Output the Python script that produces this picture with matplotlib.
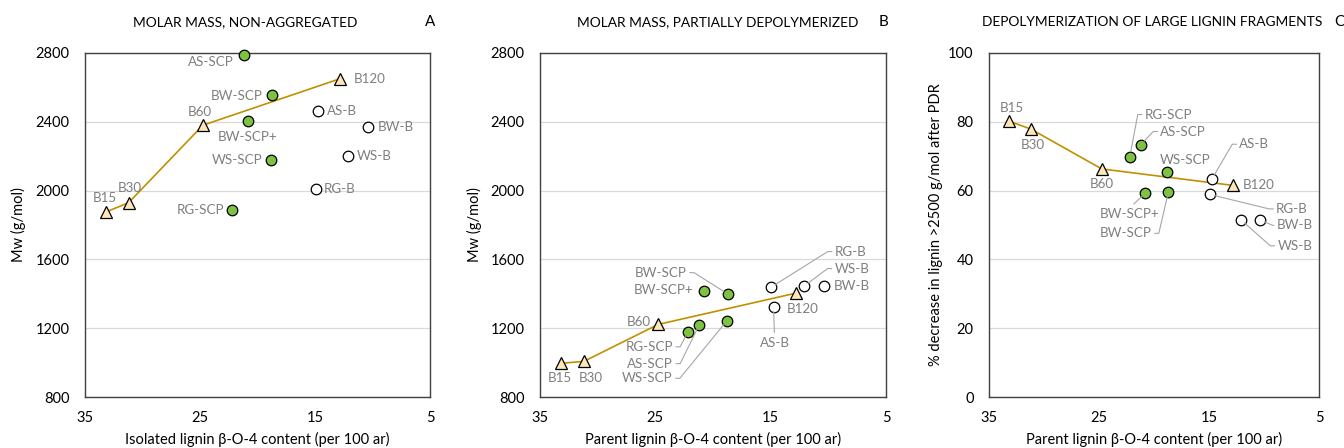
import math
import matplotlib
matplotlib.use("Agg")
import matplotlib.pyplot as plt

plt.rcParams['font.family'] = ['Lato', 'DejaVu Sans']

# ---------------- data ----------------
b_labels = ["B15", "B30", "B60", "B120"]
b_x = [33.2, 31.2, 24.75, 12.8]

scp_labels = ["RG-SCP", "AS-SCP", "BW-SCP+", "WS-SCP", "BW-SCP"]
scp_x = [22.2, 21.2, 20.8, 18.8, 18.7]

tb_labels = ["AS-B", "RG-B", "WS-B", "BW-B"]
tb_x = [14.75, 14.95, 12.1, 10.35]

# Panel A: Mw non-aggregated
a_b_y = [1875, 1930, 2380, 2651]
a_scp_y = [1887, 2790, 2403, 2178, 2556]
a_tb_y = [2463, 2009, 2201, 2368]

# Panel B: Mw partially depolymerized
b_b_y = [996, 1007, 1222, 1404]
b_scp_y = [1176, 1218, 1418, 1243, 1398]
b_tb_y = [1325, 1439, 1445, 1445]

# Panel C: % decrease of large fragments
c_b_y = [80.2, 77.9, 66.3, 61.5]
c_scp_y = [69.9, 73.4, 59.2, 65.4, 59.5]
c_tb_y = [63.3, 58.9, 51.5, 51.5]

titles = ["MOLAR MASS, NON-AGGREGATED", "MOLAR MASS, PARTIALLY DEPOLYMERIZED",
          "DEPOLYMERIZATION OF LARGE LIGNIN FRAGMENTS"]
letters = ["A", "B", "C"]
xlabels = ["Isolated lignin \u03b2-O-4 content (per 100 ar)",
           "Parent lignin \u03b2-O-4 content (per 100 ar)",
           "Parent lignin \u03b2-O-4 content (per 100 ar)"]
ylabels = ["Mw (g/mol)", "Mw (g/mol)", "% decrease in lignin >2500 g/mol after PDR"]
yticks_ab = [800, 1200, 1600, 2000, 2400, 2800]
yticks_c = [0, 20, 40, 60, 80, 100]
xticks = [35, 25, 15, 5]

# ---------------- style ----------------
W, H = 1344, 448
fig = plt.figure(figsize=(W / 100, H / 100), dpi=100)

GREEN = "#7DC242"
TRI = "#FDE7B8"
LINE = "#C09000"
LABC = "#7F7F7F"
LEAD = "#A6A6A6"
FS_TICK = 10.5
FS_TITLE = 9.9
FS_LAB = 9.6
PX = 0.72  # px -> pt

axes_px = [(85, 430), (540, 886), (989, 1319)]
top_px, bot_px = 53, 397
title_cx = [245, 718, 1152]
letter_x = [430, 884, 1339]
ylab_x = [26, 482, 943]


def lab(ax, x, y, text, dx, dy, ha="center", leader=None, tail=7):
    """dx, dy in px (dy positive = up). leader: None, 'h' (horizontal tail), 'top', 'straight'."""
    kw = dict(xy=(x, y), xytext=(dx * PX, dy * PX), textcoords="offset points",
              ha=ha, va="center", fontsize=FS_LAB, color=LABC, zorder=6,
              annotation_clip=False)
    if leader is not None:
        if leader == "h":
            relx = 1.0 if ha == "right" else (0.0 if ha == "left" else 0.5)
            s = -1 if dx > 0 else 1
            ang = math.degrees(math.atan2(dy, dx + s * tail))
            ap = dict(arrowstyle="-", color=LEAD, lw=0.8, shrinkA=0, shrinkB=3.5,
                      relpos=(relx, 0.5),
                      connectionstyle="angle,angleA=0,angleB=%.2f,rad=0" % ang)
        elif leader == "top":
            ap = dict(arrowstyle="-", color=LEAD, lw=0.8, shrinkA=1, shrinkB=3.5,
                      relpos=(0.5, 1.0))
        else:
            ap = dict(arrowstyle="-", color=LEAD, lw=0.8, shrinkA=1, shrinkB=3.5)
        kw["arrowprops"] = ap
    ax.annotate(text, **kw)


def base(i, yticks, ylim):
    l, r = axes_px[i]
    ax = fig.add_axes([l / W, 1 - bot_px / H, (r - l) / W, (bot_px - top_px) / H])
    ax.set_xlim(35, 5)
    ax.set_ylim(*ylim)
    ax.set_xticks(xticks)
    ax.set_yticks(yticks)
    ax.tick_params(length=0, labelsize=FS_TICK, colors="#000000")
    ax.tick_params(axis="y", pad=11)
    ax.tick_params(axis="x", pad=10)
    ax.grid(axis="y", color="#D9D9D9", lw=0.9)
    ax.set_axisbelow(True)
    for sp in ax.spines.values():
        sp.set_color("#404040")
        sp.set_linewidth(1.0)
    ax.set_xlabel(xlabels[i], fontsize=FS_TICK, labelpad=5)
    ax.set_ylabel(ylabels[i], fontsize=FS_TICK)
    ax.yaxis.set_label_coords((ylab_x[i] - l) / (r - l), 0.5)
    fig.text(title_cx[i] / W, 1 - 22 / H, titles[i], ha="center", va="center",
             fontsize=FS_TITLE)
    fig.text(letter_x[i] / W, 1 - 22 / H, letters[i], ha="center", va="center",
             fontsize=FS_TICK + 0.5)
    return ax


def marks(ax, by, sy, ty):
    ax.plot(b_x, by, color=LINE, lw=1.2, zorder=3, clip_on=False)
    ax.plot(b_x, by, ls="none", marker="^", ms=8, mfc=TRI, mec="#000000", mew=0.9,
            zorder=5, clip_on=False)
    ax.plot(scp_x, sy, ls="none", marker="o", ms=7.6, mfc=GREEN, mec="#000000", mew=0.9,
            zorder=5, clip_on=False)
    ax.plot(tb_x, ty, ls="none", marker="o", ms=7.6, mfc="white", mec="#000000", mew=0.9,
            zorder=5, clip_on=False)


# ---------- Panel A ----------
ax = base(0, yticks_ab, (800, 2800))
marks(ax, a_b_y, a_scp_y, a_tb_y)
# B series labels
lab(ax, b_x[0], a_b_y[0], b_labels[0], -1, 14)
lab(ax, b_x[1], a_b_y[1], b_labels[1], 1, 15)
lab(ax, b_x[2], a_b_y[2], b_labels[2], -3, 13)
lab(ax, b_x[3], a_b_y[3], b_labels[3], 13.5, 0, ha="left")
# SCP labels: RG, AS, BW+, WS, BW
lab(ax, scp_x[0], a_scp_y[0], scp_labels[0], -7.5, 0, ha="right")
lab(ax, scp_x[1], a_scp_y[1], scp_labels[1], -10, -7.5, ha="right")
lab(ax, scp_x[2], a_scp_y[2], scp_labels[2], -1, -15.5)
lab(ax, scp_x[3], a_scp_y[3], scp_labels[3], -8.5, 0, ha="right")
lab(ax, scp_x[4], a_scp_y[4], scp_labels[4], -9.5, -1, ha="right")
# B-type labels: AS, RG, WS, BW
lab(ax, tb_x[0], a_tb_y[0], tb_labels[0], 9, 0, ha="left")
lab(ax, tb_x[1], a_tb_y[1], tb_labels[1], 8, 0, ha="left")
lab(ax, tb_x[2], a_tb_y[2], tb_labels[2], 8, 0, ha="left")
lab(ax, tb_x[3], a_tb_y[3], tb_labels[3], 9.5, 0, ha="left")

# ---------- Panel B ----------
ax = base(1, yticks_ab, (800, 2800))
marks(ax, b_b_y, b_scp_y, b_tb_y)
lab(ax, b_x[0], b_b_y[0], b_labels[0], -1, -15)
lab(ax, b_x[1], b_b_y[1], b_labels[1], 6.5, -17)
lab(ax, b_x[2], b_b_y[2], b_labels[2], -7.5, 2.5, ha="right")
lab(ax, b_x[3], b_b_y[3], b_labels[3], 7, -15.5)
lab(ax, scp_x[0], b_scp_y[0], scp_labels[0], -14.5, -14.5, ha="right", leader="h")
lab(ax, scp_x[1], b_scp_y[1], scp_labels[1], -26, -38.5, ha="right", leader="h")
lab(ax, scp_x[2], b_scp_y[2], scp_labels[2], -10, 1, ha="right")
lab(ax, scp_x[3], b_scp_y[3], scp_labels[3], -54, -57.5, ha="right", leader="h")
lab(ax, scp_x[4], b_scp_y[4], scp_labels[4], -41, 21.5, ha="right", leader="h")
lab(ax, tb_x[0], b_tb_y[0], tb_labels[0], 1, -36, leader="top")
lab(ax, tb_x[1], b_tb_y[1], tb_labels[1], 63.5, 35.5, ha="left", leader="h")
lab(ax, tb_x[2], b_tb_y[2], tb_labels[2], 30.5, 17.5, ha="left", leader="h")
lab(ax, tb_x[3], b_tb_y[3], tb_labels[3], 9.5, 0, ha="left")

# ---------- Panel C ----------
ax = base(2, yticks_c, (0, 100))
marks(ax, c_b_y, c_scp_y, c_tb_y)
lab(ax, b_x[0], c_b_y[0], b_labels[0], 3.5, 13)
lab(ax, b_x[1], c_b_y[1], b_labels[1], 2.5, -15.5)
lab(ax, b_x[2], c_b_y[2], b_labels[2], 0, -15)
lab(ax, b_x[3], c_b_y[3], b_labels[3], 9.5, 0, ha="left")
lab(ax, scp_x[0], c_scp_y[0], scp_labels[0], 15, 42, ha="left", leader="h")
lab(ax, scp_x[1], c_scp_y[1], scp_labels[1], 19.5, 13, ha="left", leader="h")
lab(ax, scp_x[2], c_scp_y[2], scp_labels[2], -15.5, -20.5, leader="top")
lab(ax, scp_x[3], c_scp_y[3], scp_labels[3], 17.5, 12.5)
lab(ax, scp_x[4], c_scp_y[4], scp_labels[4], -16.5, -41, ha="right", leader="h")
lab(ax, tb_x[0], c_tb_y[0], tb_labels[0], 27.5, 35, ha="left", leader="h")
lab(ax, tb_x[1], c_tb_y[1], tb_labels[1], 66.5, -14.5, ha="left", leader="h")
lab(ax, tb_x[2], c_tb_y[2], tb_labels[2], 36.5, -26, ha="left", leader="h")
lab(ax, tb_x[3], c_tb_y[3], tb_labels[3], 16.5, -5.5, ha="left", leader="h", tail=4)

fig.savefig("out.png", dpi=100)
